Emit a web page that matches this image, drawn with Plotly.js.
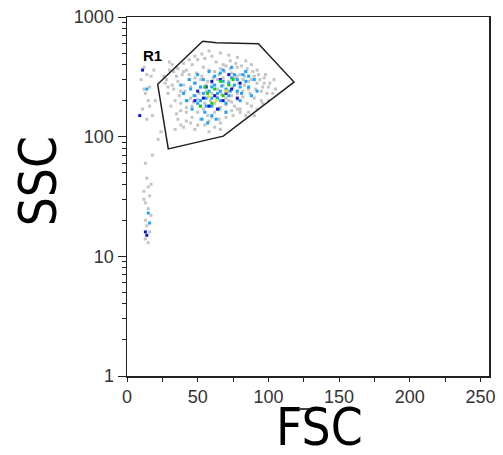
<!DOCTYPE html>
<html>
<head>
<meta charset="utf-8">
<script src="https://cdn.plot.ly/plotly-3.0.1.min.js"></script>
<style>html,body{margin:0;padding:0;background:#fff;}#chart{width:503px;height:455px;}</style>
</head>
<body>
<div id="chart"></div>
<script>
// Gate R1 polygon vertices (FSC, SSC)
const gateX = [53.5, 63.4, 92.9, 118.1, 68.1, 29.2, 21.7, 53.5];
const gateY = [627, 610, 598, 286, 101, 79, 274, 627];

// Events by density colour: [FSC, SSC]
const grayPts = [[30,420],[35,380],[28,300],[33,250],[38,190],[42,160],[36,140],[45,130],[40,120],[48,115],[52,140],[55,125],[58,135],[62,120],[66,130],[70,145],[75,150],[80,170],[85,190],[90,210],[95,240],[100,260],[104,300],[98,330],[92,360],[88,400],[84,430],[78,460],[72,480],[66,500],[60,470],[55,450],[50,440],[46,400],[42,360],[39,330],[44,300],[48,280],[52,260],[56,240],[60,230],[64,250],[68,270],[72,290],[76,310],[80,330],[84,350],[88,300],[92,280],[96,260],[86,250],[82,240],[78,230],[74,220],[70,210],[66,200],[62,190],[58,180],[54,170],[50,160],[46,180],[43,200],[47,220],[51,230],[55,210],[59,200],[63,215],[67,225],[71,240],[75,260],[79,280],[83,270],[87,230],[91,250],[95,200],[99,230],[101,280],[97,310],[93,330],[89,350],[85,370],[81,390],[77,410],[73,370],[69,350],[65,330],[61,310],[57,290],[53,320],[49,340],[45,260],[41,240],[37,220],[34,200],[31,180],[29,230],[32,270],[36,290],[40,410],[44,440],[48,470],[53,490],[58,520],[63,420],[68,400],[73,430],[78,380],[83,320],[88,180],[92,170],[96,190],[100,200],[62,160],[57,150],[52,180],[47,195],[42,175],[38,165],[35,155],[66,175],[70,185],[74,195],[78,205],[82,215],[86,160],[90,150],[65,140],[60,145],[55,190],[50,205],[45,210],[40,270],[38,240],[35,320],[33,350],[30,360],[27,280],[26,320],[54,380],[58,360],[62,350],[66,370],[70,390],[74,340],[78,320],[82,300],[86,290],[90,320],[94,300],[97,280],[60,280],[64,300],[68,310],[72,200],[76,180],[80,160],[84,150],[56,270],[52,300],[48,310],[44,330],[40,350],[36,370],[32,400],[29,260],[105,250],[103,230],[70,160],[74,165],[78,170],[66,115],[58,110],[50,125],[46,145],[42,135],[38,125],[34,115],
[12,380],[14,330],[10,300],[16,260],[13,230],[15,200],[11,170],[18,150],[14,140],[20,200],[17,320],[19,360],[12,250],[16,180],[24,110],[22,95],[13,60],[18,70],[14,45],[15,38],[12,35],[16,32],[13,28],[15,25],[17,22],[13,20],[14,18],[16,16],[13,14],[15,13],[12,30],[17,40]];

const lightBluePts = [[45,250],[48,220],[50,190],[52,260],[54,300],[56,210],[58,240],[60,180],[62,270],[64,230],[66,200],[68,290],[70,250],[72,220],[74,310],[76,270],[78,240],[80,200],[82,330],[84,290],[86,260],[88,220],[55,160],[60,150],[65,170],[50,330],[58,350],[66,340],[74,380],[62,320],[70,190],[46,170],[42,200],[53,140],[57,130],[63,140],[78,300],[84,350],[90,300],[92,240],[68,360],[54,230],[60,260],[66,240],[72,280],[76,330],[48,280],[44,300],[80,260],[64,210],[56,180],[70,160],[60,210],[67,265],[52,200],[86,320],[40,230],[38,270],[73,240],[81,230],[14,250],[15,23],[16,19]];

const bluePts = [[50,240],[56,260],[62,220],[68,200],[74,250],[58,180],[66,300],[72,330],[80,280],[54,210],[60,290],[70,230],[64,170],[78,210],[48,200],[11,360],[9,150],[14,15],[13,16]];

const greenPts = [[57,230],[62,250],[66,290],[72,270],[60,190],[68,220],[55,260],[75,300],[52,180]];

const yellowPts = [[63,200],[58,215],[70,240]];

const xTickVals = [0,25,50,75,100,125,150,175,200,225,250];
const xTickText = ['0','','50','','100','','150','','200','','250'];

function pts(arr, color) {
  return {
    type: 'scatter', mode: 'markers',
    x: arr.map(p => p[0]), y: arr.map(p => p[1]),
    marker: {symbol: 'square', size: 3, color: color, line: {width: 0}},
    hoverinfo: 'x+y', showlegend: false
  };
}

const data = [
  pts(grayPts, '#c4c4c4'),
  pts(lightBluePts, '#1aa3ff'),
  pts(bluePts, '#1414d8'),
  pts(greenPts, '#10d010'),
  pts(yellowPts, '#e8e020'),
  {type: 'scatter', mode: 'lines', x: gateX, y: gateY,
   line: {color: '#202020', width: 1.5}, showlegend: false, hoverinfo: 'skip'}
];

const tickFont = {family: 'Liberation Sans, Arial, sans-serif', size: 18, color: '#333'};
const titleFont = {family: 'Liberation Sans Narrow, DejaVu Sans Condensed, sans-serif', size: 51, color: '#000'};

const layout = {
  width: 503, height: 455,
  margin: {l: 127, r: 14, t: 17, b: 79},
  paper_bgcolor: '#fff', plot_bgcolor: '#fff',
  showlegend: false,
  xaxis: {
    range: [0, 256], tickvals: xTickVals, ticktext: xTickText,
    ticks: 'outside', ticklen: 4, tickcolor: '#222', tickwidth: 1,
    showline: true, linecolor: '#222', linewidth: 1.5, mirror: true,
    showgrid: false, zeroline: false, tickfont: tickFont
  },
  yaxis: {
    type: 'log', range: [0, 3], dtick: 1, exponentformat: 'none',
    ticks: 'outside', ticklen: 8, tickcolor: '#222', tickwidth: 1,
    minor: {dtick: 'D1', ticks: 'outside', ticklen: 4, tickcolor: '#222', showgrid: false},
    showline: true, linecolor: '#222', linewidth: 1.5, mirror: true,
    showgrid: false, zeroline: false, tickfont: tickFont
  },
  annotations: [
    {text: 'R1', x: 17.7, y: Math.log10(480), xref: 'x', yref: 'y', showarrow: false,
     font: {family: 'Liberation Sans, Arial, sans-serif', size: 15, color: '#000', weight: 'bold'}},
    {text: 'FSC', xref: 'paper', yref: 'paper', x: 0.533, y: -0.144, xanchor: 'center', yanchor: 'middle',
     showarrow: false, font: titleFont},
    {text: 'SSC', xref: 'paper', yref: 'paper', x: -0.246, y: 0.542, xanchor: 'center', yanchor: 'middle',
     textangle: -90, showarrow: false, font: titleFont}
  ],
  shapes: [
    {type: 'line', xref: 'paper', yref: 'paper', x0: 0.428, x1: 0.525, y0: -0.092, y1: -0.092,
     line: {color: '#000', width: 1.5, dash: 'dash'}}
  ]
};

Plotly.newPlot('chart', data, layout, {displayModeBar: false, staticPlot: true});
</script>
</body>
</html>
